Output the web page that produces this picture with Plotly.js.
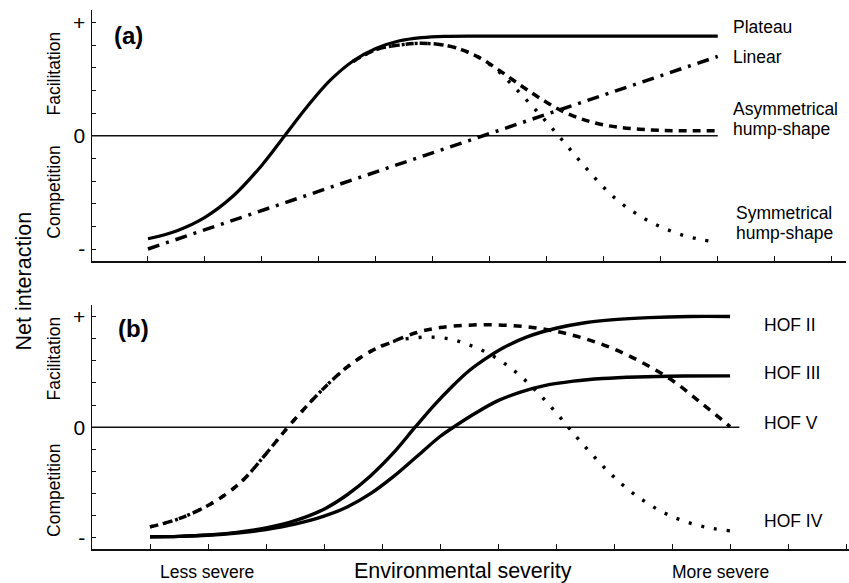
<!DOCTYPE html>
<html>
<head>
<meta charset="utf-8">
<script src="https://cdn.plot.ly/plotly-3.0.1.min.js"></script>
<style>html,body{margin:0;padding:0;background:#fff;}#chart{width:849px;height:583px;}</style>
</head>
<body>
<div id="chart"></div>
<script>
// ---------- Panel (a) data ----------
const plateauX = [0, 0.5, 1.0, 1.5, 2.0, 2.4, 2.8, 3.2, 3.6, 4.0, 4.4, 4.8, 5.2, 6.0, 7.0, 8.0, 9.0, 10];
const plateauY = [-4.55, -4.2, -3.6, -2.65, -1.3, 0, 1.3, 2.45, 3.3, 3.85, 4.18, 4.33, 4.39, 4.4, 4.4, 4.4, 4.4, 4.4];

const linearX = [0, 10];
const linearY = [-5, 3.5];

const asymX = [3.6, 4.0, 4.4, 4.8, 5.2, 5.5, 5.8, 6.1, 6.4, 6.7, 7.0, 7.3, 7.6, 7.9, 8.3, 8.8, 9.3, 10];
const asymY = [3.28, 3.8, 4.0, 4.08, 4.0, 3.8, 3.47, 3.0, 2.47, 1.95, 1.47, 1.05, 0.75, 0.53, 0.36, 0.26, 0.22, 0.22];

const symX = [3.6, 4.0, 4.4, 4.8, 5.2, 5.5, 5.8, 6.1, 6.4, 6.7, 7.0, 7.3, 7.6, 7.9, 8.2, 8.5, 8.8, 9.1, 9.4, 9.7, 10];
const symY = [3.28, 3.8, 4.0, 4.08, 4.0, 3.8, 3.47, 2.95, 2.22, 1.42, 0.6, -0.28, -1.17, -2.02, -2.76, -3.33, -3.78, -4.13, -4.4, -4.58, -4.7];

// ---------- Panel (b) data ----------
const hof2X = [0, 0.5, 1.0, 1.5, 2.0, 2.5, 3.0, 3.4, 3.8, 4.2, 4.57, 4.9, 5.2, 5.5, 5.8, 6.1, 6.5, 7.0, 7.5, 8.0, 8.6, 9.3, 10];
const hof2Y = [-4.95, -4.93, -4.87, -4.75, -4.55, -4.22, -3.7, -3.05, -2.2, -1.15, 0, 1.0, 1.82, 2.55, 3.12, 3.6, 4.08, 4.47, 4.72, 4.86, 4.95, 5.0, 5.0];

const hof3X = [0, 0.5, 1.0, 1.5, 2.0, 2.5, 3.0, 3.4, 3.8, 4.2, 4.6, 5.0, 5.23, 5.6, 6.0, 6.4, 6.8, 7.3, 7.8, 8.4, 9.2, 10];
const hof3Y = [-4.95, -4.93, -4.88, -4.78, -4.62, -4.38, -4.02, -3.6, -3.0, -2.22, -1.32, -0.42, 0, 0.62, 1.2, 1.6, 1.88, 2.08, 2.2, 2.27, 2.31, 2.32];

const hof5X = [0, 0.4, 0.8, 1.2, 1.6, 2.0, 2.36, 2.7, 3.05, 3.4, 3.8, 4.2, 4.6, 5.0, 5.5, 6.0, 6.5, 7.0, 7.5, 8.0, 8.5, 9.0, 9.5, 10];
const hof5Y = [-4.5, -4.22, -3.8, -3.22, -2.4, -1.2, -0.05, 0.95, 1.9, 2.72, 3.42, 3.88, 4.28, 4.5, 4.61, 4.62, 4.53, 4.33, 4.0, 3.53, 2.9, 2.12, 1.1, 0.03];

const hof4X = [0, 0.4, 0.8, 1.2, 1.6, 2.0, 2.36, 2.7, 3.05, 3.4, 3.8, 4.2, 4.5, 4.85, 5.2, 5.5, 5.8, 6.1, 6.4, 6.7, 7.0, 7.3, 7.6, 7.9, 8.2, 8.5, 8.8, 9.1, 9.4, 9.7, 10];
const hof4Y = [-4.5, -4.22, -3.8, -3.22, -2.4, -1.2, -0.05, 0.95, 1.9, 2.72, 3.42, 3.88, 4.02, 4.07, 3.97, 3.72, 3.38, 2.9, 2.28, 1.52, 0.66, -0.28, -1.17, -2.0, -2.72, -3.3, -3.78, -4.14, -4.4, -4.57, -4.68];

// ---------- axes / labels ----------
const yTickVals = [-5, -4, -3, -2, -1, 0, 1, 2, 3, 4, 5];
const yTickText = ['-', '', '', '', '', '0', '', '', '', '', '+'];
const xTickVals = [0, 1, 2, 3, 4, 5, 6, 7, 8, 9, 10, 11, 12];
const zeroEndA = 10;
const zeroEndB = 10.16;

const labelsA = ['Plateau', 'Linear', 'Asymmetrical', 'hump-shape', 'Symmetrical', 'hump-shape'];
const labelsAX = [10.23, 10.23, 10.23, 10.23, 10.28, 10.28];
const labelsAY = [4.8, 3.48, 1.18, 0.31, -3.4, -4.28];

const labelsB = ['HOF II', 'HOF III', 'HOF V', 'HOF IV'];
const labelsBX = [10.55, 10.55, 10.55, 10.55];
const labelsBY = [4.63, 2.43, 0.17, -4.22];

const FONT = 'Liberation Sans, Arial, Helvetica, sans-serif';

const xRangeA = [-0.982, 12.25];
const xRangeB = [-1.0, 12.05];

function line(x, y, xa, ya, width, dash) {
  return {x: x, y: y, xaxis: xa, yaxis: ya, type: 'scatter', mode: 'lines',
    line: {color: '#000', width: width, dash: dash, shape: 'spline', smoothing: 1},
    hoverinfo: 'skip', showlegend: false, cliponaxis: false};
}

const traces = [
  line(plateauX, plateauY, 'x', 'y', 3.2, 'solid'),
  line(linearX, linearY, 'x', 'y', 3.5, '12px,7px,3px,7px'),
  line(asymX, asymY, 'x', 'y', 3.5, '8px,6px'),
  line(symX, symY, 'x', 'y', 3.4, '3px,10px'),
  line(hof2X, hof2Y, 'x2', 'y2', 3.4, 'solid'),
  line(hof3X, hof3Y, 'x2', 'y2', 3.4, 'solid'),
  line(hof5X, hof5Y, 'x2', 'y2', 3.5, '8px,7px'),
  line(hof4X, hof4Y, 'x2', 'y2', 3.4, '3px,10px')
];

function xax(domain, range, anchor) {
  return {domain: domain, range: range, anchor: anchor, showgrid: false, zeroline: false,
    showline: true, linecolor: '#111', linewidth: 1.5, ticks: 'inside', ticklen: 5, tickwidth: 1,
    tickcolor: '#111', tickvals: xTickVals, showticklabels: false, fixedrange: true};
}
function yax(domain, range, anchor) {
  return {domain: domain, range: range, anchor: anchor, showgrid: false, zeroline: false,
    showline: true, linecolor: '#111', linewidth: 1.5, ticks: 'inside', ticklen: 4, tickwidth: 1,
    tickcolor: '#111', tickvals: yTickVals, ticktext: yTickText, ticklabelstandoff: 1,
    tickfont: {family: FONT, size: 21, color: '#000'}, fixedrange: true};
}

const ann = [];
function paperText(text, x, y, size, opts) {
  ann.push(Object.assign({text: text, x: x, y: y, xref: 'paper', yref: 'paper', showarrow: false,
    xanchor: 'center', yanchor: 'middle', font: {family: FONT, size: size, color: '#000'}}, opts || {}));
}
labelsA.forEach((t, i) => ann.push({text: t, x: labelsAX[i], y: labelsAY[i], xref: 'x', yref: 'y',
  showarrow: false, xanchor: 'left', yanchor: 'middle', font: {family: FONT, size: 17.5, color: '#000'}}));
labelsB.forEach((t, i) => ann.push({text: t, x: labelsBX[i], y: labelsBY[i], xref: 'x2', yref: 'y2',
  showarrow: false, xanchor: 'left', yanchor: 'middle', font: {family: FONT, size: 17.5, color: '#000'}}));

paperText('Less severe', 0.1519, -0.0427, 17.5);
paperText('More severe', 0.8309, -0.0427, 17.5);
paperText('Environmental severity', 0.4901, -0.0408, 21.5);
paperText('Net interaction', -0.0898, 0.4963, 21.5, {textangle: -90});
paperText('Facilitation', -0.0502, 0.8822, 17.5, {textangle: -90});
paperText('Competition', -0.0502, 0.6629, 17.5, {textangle: -90});
paperText('Facilitation', -0.0502, 0.3534, 17.5, {textangle: -90});
paperText('Competition', -0.0502, 0.1095, 17.5, {textangle: -90});
paperText('<b>(a)</b>', 0.0476, 0.9536, 24);
paperText('<b>(b)</b>', 0.0542, 0.41, 24);

const layout = {
  width: 849, height: 583,
  margin: {l: 92, r: 0, t: 10, b: 34, pad: 0},
  paper_bgcolor: '#fff', plot_bgcolor: '#fff',
  showlegend: false,
  xaxis: xax([0, 0.996], xRangeA, 'y'),
  yaxis: yax([0.5343, 1], [-5.53, 5.55], 'x'),
  xaxis2: xax([0, 1], xRangeB, 'y2'),
  yaxis2: yax([0, 0.4527], [-5.5, 5.52], 'x2'),
  shapes: [
    {type: 'line', xref: 'x', yref: 'y', x0: xRangeA[0], x1: zeroEndA, y0: 0, y1: 0, line: {color: '#111', width: 1.4}, layer: 'below'},
    {type: 'line', xref: 'x2', yref: 'y2', x0: xRangeB[0], x1: zeroEndB, y0: 0, y1: 0, line: {color: '#111', width: 1.4}, layer: 'below'}
  ],
  annotations: ann
};

Plotly.newPlot('chart', traces, layout, {displayModeBar: false, staticPlot: true});
</script>
</body>
</html>
